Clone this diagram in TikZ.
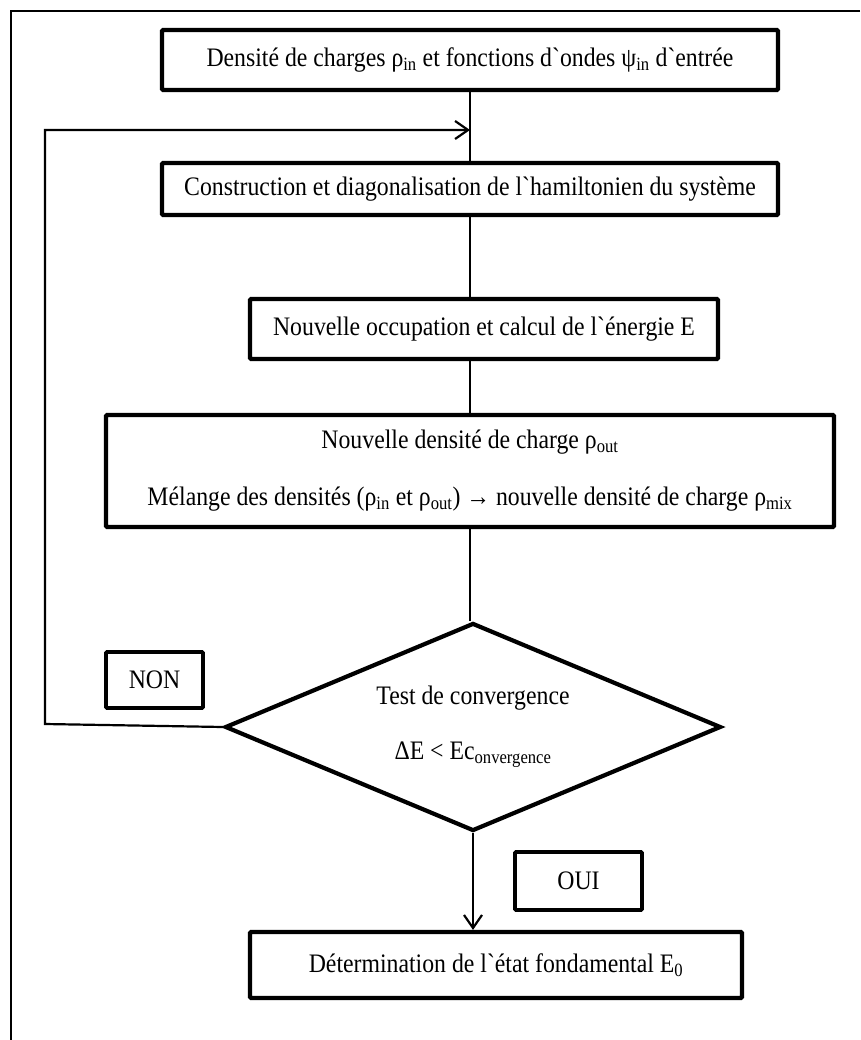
\documentclass[tikz,border=0pt]{standalone}
\usepackage{fontspec}
\newfontfamily\tnr{Liberation Serif}[FakeStretch=0.89]
\usetikzlibrary{arrows.meta,shapes.geometric}
\newcommand{\sbt}[1]{\textsubscript{#1}}
\begin{document}
\begin{tikzpicture}[x=1pt,y=-1pt,
  txt/.style={font=\tnr\fontsize{26.7}{30}\selectfont},
  stepbox/.style={txt,draw=black,line width=4.2pt,rounded corners=1.2pt,inner sep=0pt,align=center},
  lblbox/.style={txt,draw=black,line width=3.6pt,rounded corners=1pt,inner sep=0pt},
  testnode/.style={txt,draw=black,line width=4.2pt,shape=diamond,aspect=2.4,inner sep=0pt,
     minimum width=496pt,minimum height=208pt,align=center},
  conn/.style={line width=2.2pt},
  arr/.style={line width=2.2pt,-{Straight Barb[length=13pt,width=18pt,line width=2.2pt]}}]
\useasboundingbox (0,0) rectangle (860,1040);
\fill[white] (0,0) rectangle (860,1040);
% frame
\coordinate (fr1) at (860,11);
\coordinate (fr2) at (11,11);
\coordinate (fr3) at (11,1040);
\draw[line width=2pt] (fr1) -- (fr2) -- (fr3);
% boxes
\node[stepbox,minimum width=616pt,minimum height=60pt] (b1) at (470,60)
  {Densité de charges ρ\sbt{in} et fonctions d`ondes ψ\sbt{in} d`entrée};
\node[stepbox,minimum width=616pt,minimum height=52pt] (b2) at (470,189)
  {Construction et diagonalisation de l`hamiltonien du système};
\node[stepbox,minimum width=468pt,minimum height=60pt] (b3) at (484,329)
  {Nouvelle occupation et calcul de l`énergie E};
\node[stepbox,minimum width=728pt,minimum height=112pt,font=\tnr\fontsize{26.7}{57}\selectfont] (b4) at (470,471)
  {Nouvelle densité de charge ρ\sbt{out}\\Mélange des densités (ρ\sbt{in} et ρ\sbt{out}) → nouvelle densité de charge ρ\sbt{mix}};
\node[testnode,font=\tnr\fontsize{26.7}{55}\selectfont] (dia) at (473,727)
  {Test de convergence\\ΔE < Ec\sbt{onvergence}};
\node[lblbox,minimum width=97pt,minimum height=56pt] (non) at (154.5,680) {NON};
\node[lblbox,minimum width=127pt,minimum height=58pt] (oui) at (578.5,881) {OUI};
\node[stepbox,minimum width=492pt,minimum height=66pt] (b5) at (496,965)
  {Détermination de l`état fondamental E\sbt{0}};
% connectors
\coordinate (j) at (470,130);
\coordinate (lb) at (45,724);
\coordinate (lt) at (45,130);
\draw[conn] (b1.south) -- (b2.north);
\draw[conn] (b2.south) -- (b2.south |- b3.north);
\draw[conn] (b2.south |- b3.south) -- (b4.north);
\draw[conn] (b4.south) -- (b4.south |- dia.north);
\draw[arr] (dia.south) -- (dia.south |- b5.north);
\draw[arr] (dia.west) -- (lb) -- (lt) -- (j);
\end{tikzpicture}
\end{document}
